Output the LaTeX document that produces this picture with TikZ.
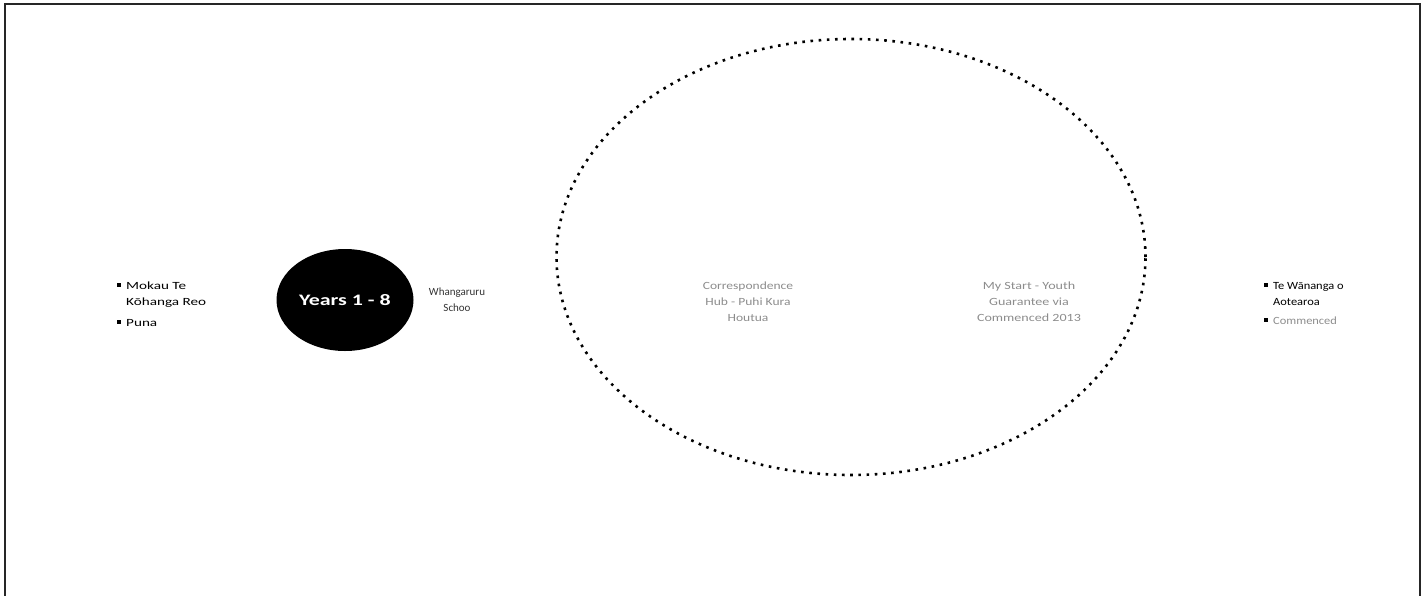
\documentclass[tikz,border=0pt]{standalone}
\usepackage{fontspec}
\usepackage{graphicx}
\setmainfont{Carlito}
\usetikzlibrary{shapes.geometric}
\newcommand{\wtxt}[3]{\scalebox{#1}[1]{\begin{tabular}{@{}#2@{}}#3\end{tabular}}}
\begin{document}
\begin{tikzpicture}[x=1pt,y=-1pt,
  lbl/.style={font=\fontsize{11}{16}\selectfont, inner sep=0pt, anchor=north west},
  ctr/.style={font=\fontsize{11}{16}\selectfont, inner sep=0pt},
  faded/.style={ctr, text=black!45},
  blt/.style={font=\fontsize{8}{8}\selectfont, inner sep=0pt}]
\useasboundingbox (0,0) rectangle (1426,595);
% frame (left, top, right)
\draw[line width=1.6pt, black!85] (5,600) -- (5,4) -- (1420,4) -- (1420,600);
% black ellipse
\node[ellipse, fill=black, minimum width=137, minimum height=102, inner sep=0pt,
      text=white, font=\fontsize{16}{16}\selectfont\bfseries] (yrs) at (345,300) {\scalebox{1.37}[1]{Years 1 - 8}};
% dotted ellipse
\node[ellipse, draw, line width=2.6pt, dash pattern=on 2.6pt off 5.6pt,
      minimum width=589, minimum height=436, inner sep=0pt] (hub) at (851,257) {};
% left bullets
\node[blt] (b1) at (119,285) {\rule{3.5pt}{3.5pt}};
\node[lbl] (t1) at (126,278) {\wtxt{1.38}{l}{Mokau Te\\Kōhanga Reo}};
\node[blt] (b2) at (119,322) {\rule{3.5pt}{3.5pt}};
\node[lbl] (t2) at (126,315) {\wtxt{1.38}{l}{Puna}};
% Whangaruru
\node[ctr, text=black!80] (wh) at (457,300) {\wtxt{1}{c}{Whangaruru\\Schoo}};
% inside hub
\node[faded] (corr) at (748,302) {\wtxt{1.23}{c}{Correspondence\\Hub - Puhi Kura\\Houtua}};
\node[faded] (ms) at (1029,302) {\wtxt{1.28}{c}{My Start - Youth\\Guarantee via\\Commenced 2013}};
% right bullets
\node[blt] (b3) at (1266,285) {\rule{3.5pt}{3.5pt}};
\node[lbl] (t3) at (1273,278) {\wtxt{1.13}{l}{Te Wānanga o\\Aotearoa}};
\node[blt] (b4) at (1266,320) {\rule{3.5pt}{3.5pt}};
\node[lbl, text=black!45] (t4) at (1273,313) {\wtxt{1.13}{l}{Commenced}};
\end{tikzpicture}
\end{document}
